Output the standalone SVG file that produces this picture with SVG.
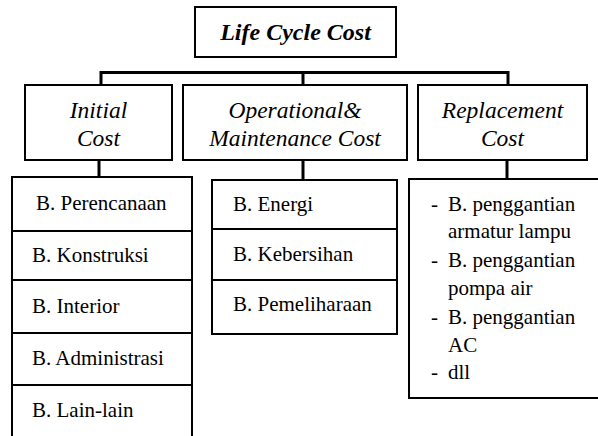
<svg xmlns="http://www.w3.org/2000/svg" width="598" height="436" viewBox="0 0 598 436">
<style>
.box{fill:#fff;stroke:#000;stroke-width:2}
.conn{fill:none;stroke:#000;stroke-width:3}
.div{stroke:#000;stroke-width:2}
text{font-family:'Liberation Serif','Times New Roman','DejaVu Serif',serif;fill:#000}
.h{font-size:23.5px;font-style:italic;text-anchor:middle}
.title{font-size:24px;font-style:italic;font-weight:bold;text-anchor:middle}
.l{font-size:21px}
</style>
<rect width="598" height="436" fill="#fff"/>
<g id="connectors">
<path class="conn" d="M101,72.5 H508 M101,71 V86 M303,71 V86 M508,71 V86 M99,160 V178 M303,160 V181 M507,160 V180"/>
</g>
<g id="life-cycle-cost">
<rect class="box" x="195" y="7" width="201" height="50"/>
<text class="title" x="295.5" y="40" font-family="Liberation Serif, serif">Life Cycle Cost</text>
</g>
<g id="initial-cost">
<rect class="box" x="25" y="85" width="147" height="75"/>
<text class="h" x="98.5" y="118">Initial</text>
<text class="h" x="98.5" y="146">Cost</text>
</g>
<g id="operational-cost">
<rect class="box" x="183" y="85" width="224" height="75"/>
<text class="h" x="295" y="118">Operational&amp;</text>
<text class="h" x="295" y="146">Maintenance Cost</text>
</g>
<g id="replacement-cost">
<rect class="box" x="418" y="85" width="169" height="75"/>
<text class="h" x="502.5" y="118">Replacement</text>
<text class="h" x="502.5" y="146">Cost</text>
</g>
<g id="initial-list">
<rect class="box" x="12" y="177" width="180" height="270"/>
<line class="div" x1="12" y1="231" x2="192" y2="231"/>
<line class="div" x1="12" y1="280" x2="192" y2="280"/>
<line class="div" x1="12" y1="333" x2="192" y2="333"/>
<line class="div" x1="12" y1="385" x2="192" y2="385"/>
<text class="l" x="36" y="210">B. Perencanaan</text>
<text class="l" x="32" y="262">B. Konstruksi</text>
<text class="l" x="32" y="313">B. Interior</text>
<text class="l" x="32" y="365">B. Administrasi</text>
<text class="l" x="32" y="417">B. Lain-lain</text>
</g>
<g id="operational-list">
<rect class="box" x="212" y="180" width="185" height="154"/>
<line class="div" x1="212" y1="229" x2="397" y2="229"/>
<line class="div" x1="212" y1="280" x2="397" y2="280"/>
<text class="l" x="233" y="211">B. Energi</text>
<text class="l" x="233" y="261">B. Kebersihan</text>
<text class="l" x="233" y="311">B. Pemeliharaan</text>
</g>
<g id="replacement-list">
<rect class="box" x="409" y="179" width="200" height="219"/>
<text class="l" x="431" y="211">-</text>
<text class="l" x="448" y="211">B. penggantian</text>
<text class="l" x="448" y="238">armatur lampu</text>
<text class="l" x="431" y="267">-</text>
<text class="l" x="448" y="267">B. penggantian</text>
<text class="l" x="448" y="295">pompa air</text>
<text class="l" x="431" y="324">-</text>
<text class="l" x="448" y="324">B. penggantian</text>
<text class="l" x="448" y="352">AC</text>
<text class="l" x="431" y="379">-</text>
<text class="l" x="448" y="379">dll</text>
</g>
</svg>
